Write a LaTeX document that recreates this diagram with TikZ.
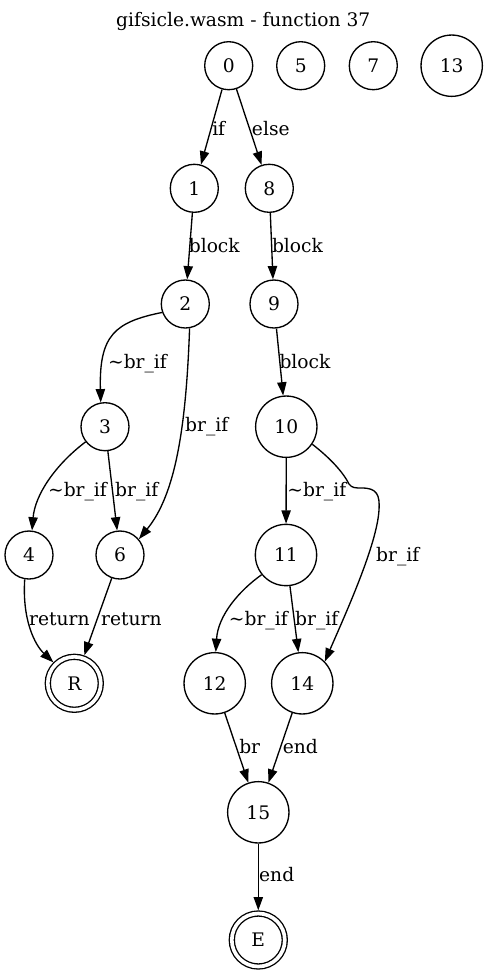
\documentclass[tikz,border=0pt]{standalone}
\usepackage{fontspec}
\setmainfont{DejaVu Serif}
\usetikzlibrary{arrows.meta}

\begin{document}
\begin{tikzpicture}[x=0.75pt,y=-0.75pt,line width=1pt,font=\fontsize{14}{17}\selectfont,
	blk/.style={circle,draw,minimum size=36pt,inner sep=0pt},
	wideblk/.style={blk,minimum size=46pt},
	final/.style={blk,double,double distance=2.75pt,minimum size=39.75pt,outer sep=2.375pt},
	edge/.style={-{Triangle[length=10pt,width=7pt]}},
	lbl/.style={anchor=base,inner sep=0pt}]
		\useasboundingbox (0,0) rectangle (488,975);
		\node[lbl] (title) at (243.3,26) {gifsicle.wasm - function 37};
		% blocks
		\node[blk] (n0) at (228.7,65.7) {0};
		\foreach \n/\x in {5/300.7,7/373.3}
			\node[blk] (n\n) at (\x,65.7) {\n};
		\node[wideblk] (n13) at (451.7,65.7) {13};
		\node[blk] (n1) at (194.3,188.3) {1};
		\node[blk] (n8) at (269.3,188.3) {8};
		\node[blk] (n2) at (185.3,304) {2};
		\node[blk] (n9) at (274,304) {9};
		\node[blk] (n3) at (105,426.7) {3};
		\node[wideblk] (n10) at (286.3,426.7) {10};
		\node[blk] (n4) at (29,555) {4};
		\node[blk] (n6) at (120,555) {6};
		\node[wideblk] (n11) at (286,555) {11};
		\node[final] (nR) at (74.3,683.3) {R};
		\node[wideblk] (n12) at (214.7,683.3) {12};
		\node[wideblk] (n14) at (302.3,683.3) {14};
		\node[wideblk] (n15) at (258.3,812.3) {15};
		\node[final] (nE) at (258.3,940) {E};
		% edges
		\draw[edge] (n0) -- (n1) node[lbl] at (218.7,135.7) {if};
		\draw[edge] (n0) -- (n8) node[lbl] at (270.8,135.7) {else};
		\draw[edge] (n1) -- (n2) node[lbl] at (214.3,252.3) {block};
		\draw[edge] (n8) -- (n9) node[lbl] at (297.5,252.3) {block};
		\draw[edge] (n2.200) .. controls (115,322) and (99,335) .. (n3.100)
			node[lbl] at (137.5,368.3) {\textasciitilde br\_if};
		\draw[edge] (n9) -- (n10) node[lbl] at (305,368.3) {block};
		\draw[edge] (n2.280) .. controls (186,430) and (175,495) .. (n6.40)
			node[lbl] at (206.7,431.7) {br\_if};
		\draw[edge] (n3.218) .. controls (55,465) and (35,495) .. (n4.83)
			node[lbl] at (77.5,496) {\textasciitilde br\_if};
		\draw[edge] (n3) -- (n6) node[lbl] at (136.7,496) {br\_if};
		\draw[edge] (n10) -- (n11) node[lbl] at (316.8,496) {\textasciitilde br\_if};
		\draw[edge] (n10.-34) .. controls (330,458) and (343,472) .. (349,484)
			.. controls (352,488) and (355,488) .. (362,488)
			.. controls (377,488) and (380,495) .. (379,510)
			.. controls (377,545) and (345,615) .. (n14.44)
			node[lbl] at (397.7,561) {br\_if};
		\draw[edge] (n4.260) .. controls (22,620) and (35,645) .. (nR.135)
			node[lbl] at (59.3,625) {return};
		\draw[edge] (n6) -- (nR) node[lbl] at (131.3,625) {return};
		\draw[edge] (n11.219) .. controls (240,590) and (218,615) .. (n12.88)
			node[lbl] at (258.3,625) {\textasciitilde br\_if};
		\draw[edge] (n11) -- (n14) node[lbl] at (316.7,625) {br\_if};
		\draw[edge] (n12) -- (n15) node[lbl] at (249.7,753.3) {br};
		\draw[edge] (n14) -- (n15) node[lbl] at (300.3,753.3) {end};
		\draw[edge] (n15) -- (nE) node[lbl] at (276.7,881.7) {end};
\end{tikzpicture}
\end{document}
